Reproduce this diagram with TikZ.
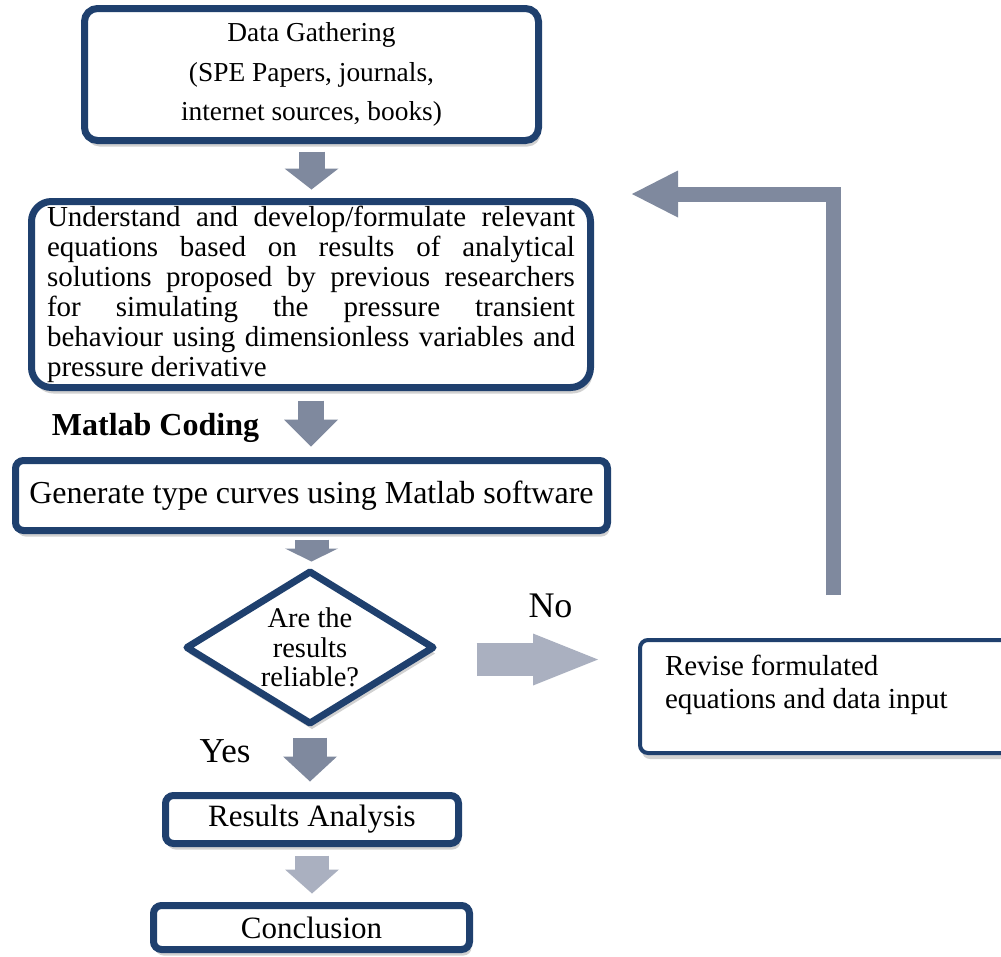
\documentclass[tikz,border=0pt]{standalone}
\usepackage{fontspec}
\setmainfont{Liberation Serif}
\usetikzlibrary{arrows.meta,shapes.geometric,shadows}
\definecolor{boxblue}{RGB}{31,64,110}
\definecolor{arrowgray}{RGB}{127,137,158}
\definecolor{arrowlight}{RGB}{170,176,192}
\tikzset{
  box/.style={draw=boxblue,line width=7pt,fill=white,rounded corners=#1,
    drop shadow={shadow xshift=2pt,shadow yshift=-6pt,opacity=.18,fill=black}},
  box/.default=8pt,
  blockarrow/.style n args={4}{draw=#1,line width=#2,
    -{Triangle[length=#3,width=#4,line width=0pt]}}
}
\begin{document}
\begin{tikzpicture}[x=1pt,y=-1pt]
            \useasboundingbox (0,0) rectangle (1001,956);
            \fill[white] (0,0) rectangle (1001,956);
            \clip (0,0) rectangle (1001,956);
            % boxes of the main column
            \node[box=13pt,minimum width=454pt,minimum height=132pt,align=center,
              font=\fontsize{27.4}{39.5}\selectfont] (gather) at (311.5,74.5)
              {Data Gathering\\(SPE Papers, journals,\\internet sources, books)};
            \node[box=20pt,minimum width=559pt,minimum height=186pt,text width=528pt,
              align=justify,font=\fontsize{29}{30}\selectfont] (understand) at (311,294.5)
              {Understand and develop/formulate relevant\linebreak
               equations based on results of analytical\linebreak
               solutions proposed by previous researchers\linebreak
               for simulating the pressure transient\linebreak
               behaviour using dimensionless variables and\linebreak
               pressure derivative};
            \node[font=\bfseries\fontsize{32}{36}\selectfont,anchor=base] (coding) at (155.5,435) {Matlab Coding};
            \node[box,minimum width=592pt,minimum height=70pt,
              font=\fontsize{32}{36}\selectfont] (typecurve) at (311.5,495.5)
              {Generate type curves using Matlab software};
            \node[diamond,draw=boxblue,line width=7pt,line join=round,fill=white,aspect=1.617,
              inner sep=0pt,minimum width=249pt,minimum height=154pt,align=center,
              font=\fontsize{28.5}{29.5}\selectfont,
              drop shadow={shadow xshift=2pt,shadow yshift=-6pt,opacity=.18,fill=black}]
              (reliable) at (310,647.5) {Are the\\results\\reliable?};
            \node[box,line width=4pt,minimum width=372pt,minimum height=113pt,
              inner xsep=25pt,inner ysep=0pt,font=\fontsize{29}{33}\selectfont]
              (revise) at (826,696.5)
              {\parbox[t][82pt][t]{322pt}{Revise formulated\\equations and data input}};
            \node[box,minimum width=293pt,minimum height=48pt,inner ysep=2pt,
              font=\fontsize{31}{36}\selectfont] (results) at (312,819.5) {Results Analysis};
            \node[box,minimum width=316pt,minimum height=44pt,inner ysep=2pt,
              font=\fontsize{31}{36}\selectfont] (conclusion) at (311.5,927.5) {Conclusion};
            \node[font=\fontsize{36}{40}\selectfont,anchor=base] (no) at (550.5,617) {No};
            \node[font=\fontsize{35}{40}\selectfont,anchor=base] (yes) at (225,762) {Yes};
            % block arrows
            \draw[blockarrow={arrowgray}{26pt}{21pt}{54pt},shorten <=7.5pt,shorten >=8.5pt]
              (gather.south) -- (gather.south |- understand.north);
            \draw[blockarrow={arrowgray}{26pt}{27pt}{54pt},shorten <=9.5pt,shorten >=10.5pt]
              (understand.south) -- (understand.south |- typecurve.north);
            \draw[blockarrow={arrowgray}{34pt}{13pt}{53pt},shorten <=5.5pt,shorten >=5.5pt]
              (typecurve.south) -- (typecurve.south |- reliable.north);
            \draw[blockarrow={arrowgray}{34pt}{25pt}{54pt},shorten <=9.5pt,shorten >=10.5pt]
              (reliable.south) -- (reliable.south |- results.north);
            \draw[blockarrow={arrowlight}{34pt}{24pt}{54pt},shorten <=8.5pt,shorten >=8.5pt]
              (results.south) -- (results.south |- conclusion.north);
            \draw[blockarrow={arrowlight}{33pt}{65pt}{52pt},shorten <=38.5pt,shorten >=40pt]
              ([yshift=-12pt]reliable.east) -- ([yshift=-12pt]reliable.east -| revise.west);
            % feedback loop
            \coordinate (loopstart) at (833.5,595);
            \coordinate (loopend) at (632,194);
            \draw[blockarrow={arrowgray}{15pt}{46pt}{47pt},line join=miter] (loopstart) |- (loopend);
\end{tikzpicture}
\end{document}
